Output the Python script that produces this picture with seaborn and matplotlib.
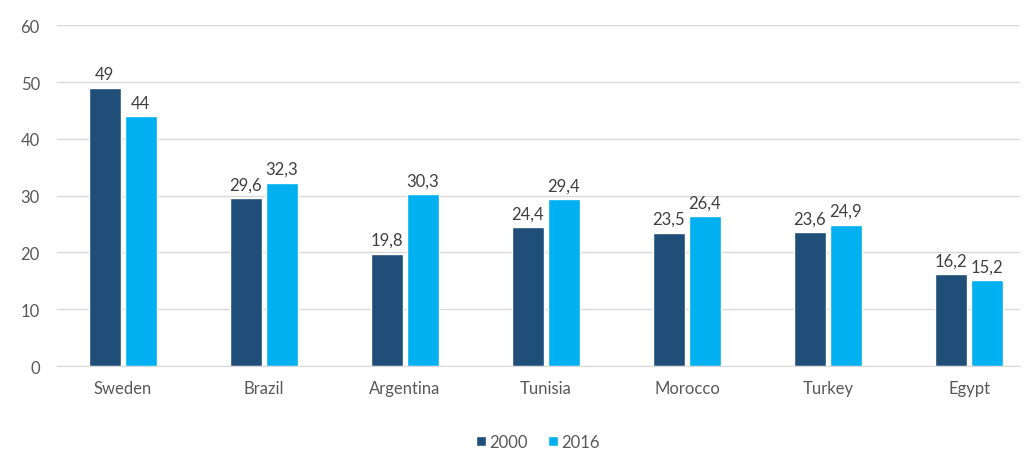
import pandas as pd
import matplotlib
matplotlib.use("Agg")
import matplotlib.pyplot as plt
import seaborn as sns

paises = ["Sweden", "Brazil", "Argentina", "Tunisia", "Morocco", "Turkey", "Egypt"]
anios = ["2000", "2016"]
valores_2000 = [49, 29.6, 19.8, 24.4, 23.5, 23.6, 16.2]
valores_2016 = [44, 32.3, 30.3, 29.4, 26.4, 24.9, 15.2]
etiquetas_2000 = ["49", "29,6", "19,8", "24,4", "23,5", "23,6", "16,2"]
etiquetas_2016 = ["44", "32,3", "30,3", "29,4", "26,4", "24,9", "15,2"]

colores = {"2000": "#1F4E79", "2016": "#00B0F0"}

df = pd.DataFrame({
    "pais": paises * 2,
    "anio": ["2000"] * len(paises) + ["2016"] * len(paises),
    "valor": valores_2000 + valores_2016,
})

sns.set_style("white")
plt.rcParams["font.family"] = ["Lato", "DejaVu Sans"]

fig = plt.figure(figsize=(10.28, 4.52), dpi=100)
ax = fig.add_axes([0.055, 0.188, 0.937, 0.754])

sns.barplot(data=df, x="pais", y="valor", hue="anio", hue_order=anios,
            palette=colores, saturation=1, width=0.51, gap=0.11, ax=ax,
            legend=True)

# etiquetas de valores
for cont, etiq in zip(ax.containers, [etiquetas_2000, etiquetas_2016]):
    ax.bar_label(cont, labels=etiq, padding=4, fontsize=12, color="#404040")

ax.set_ylim(0, 60)
ax.set_yticks(range(0, 61, 10))
ax.set_xlim(-0.47, 6.36)
ax.yaxis.grid(True, color="#D9D9D9", linewidth=1)
ax.set_axisbelow(True)
for s in ["top", "right", "left"]:
    ax.spines[s].set_visible(False)
ax.spines["bottom"].set_color("#D9D9D9")
ax.set_xlabel("")
ax.set_ylabel("")
ax.tick_params(axis="both", length=0, labelsize=12, labelcolor="#595959")
ax.tick_params(axis="x", pad=10)
ax.tick_params(axis="y", pad=12)

leg = ax.legend(loc="upper center", bbox_to_anchor=(0.5, -0.155), ncol=2,
                frameon=False, fontsize=12, handlelength=0.6, handleheight=0.6,
                handletextpad=0.2, columnspacing=1.2)
for t in leg.get_texts():
    t.set_color("#595959")

fig.savefig("out.png", dpi=100)
